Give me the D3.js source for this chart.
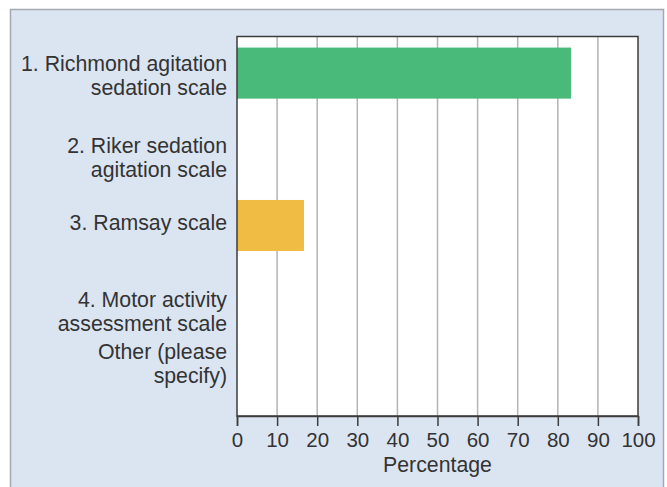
<!DOCTYPE html>
<html>
<head>
<meta charset="utf-8">
<script src="https://cdn.jsdelivr.net/npm/d3@7"></script>
<style>
  html, body { margin: 0; padding: 0; background: #ffffff; }
  svg { display: block; }
  text { font-family: "Liberation Sans", Arial, sans-serif; fill: #333333; }
</style>
</head>
<body>
<svg id="chart" width="667" height="487"></svg>
<script>
// Sedation scale used — share of respondents (%)
const categories = [
  ["1. Richmond agitation", "sedation scale"],
  ["2. Riker sedation", "agitation scale"],
  ["3. Ramsay scale"],
  ["4. Motor activity", "assessment scale"],
  ["Other (please", "specify)"]
];
const values = [83.3, 0, 16.7, 0, 0];
const barColors = ["#4aba7b", "#4aba7b", "#f0bc43", "#4aba7b", "#4aba7b"];
const xTicks = [0, 10, 20, 30, 40, 50, 60, 70, 80, 90, 100];
const xTitle = "Percentage";

// layout
const W = 667, H = 487;
const plot = { left: 237, right: 638, top: 36.5, bottom: 416 };
const labelNudge = [2, 8, -3, 10, -14];
const lineGap = 24;
const fontSize = 21.3;

const svg = d3.select("#chart");

// outer panel
svg.append("rect")
  .attr("x", 10.5).attr("y", 9.5)
  .attr("width", 653).attr("height", 500)
  .attr("fill", "#dbe5f2")
  .attr("stroke", "#a3a9b0")
  .attr("stroke-width", 1.5);

const x = d3.scaleLinear().domain([0, 100]).range([plot.left, plot.right]);
const y = d3.scaleBand()
  .domain(d3.range(categories.length))
  .range([35, plot.bottom])
  .paddingInner(0.33)
  .paddingOuter(0.165);

// plot background
svg.append("rect")
  .attr("x", plot.left).attr("y", plot.top)
  .attr("width", plot.right - plot.left).attr("height", plot.bottom - plot.top)
  .attr("fill", "#ffffff");

// vertical gridlines
svg.append("g")
  .selectAll("line")
  .data(xTicks.slice(1, -1))
  .join("line")
  .attr("x1", d => x(d)).attr("x2", d => x(d))
  .attr("y1", plot.top).attr("y2", plot.bottom)
  .attr("stroke", "#b4b4b4")
  .attr("stroke-width", 1.5);

// bars
svg.append("g")
  .selectAll("rect")
  .data(values.map((v, i) => ({ v, i })).filter(d => d.v > 0))
  .join("rect")
  .attr("x", x(0))
  .attr("y", d => y(d.i))
  .attr("width", d => x(d.v) - x(0))
  .attr("height", y.bandwidth())
  .attr("fill", d => barColors[d.i]);

// plot frame
svg.append("rect")
  .attr("x", plot.left).attr("y", plot.top)
  .attr("width", plot.right - plot.left).attr("height", plot.bottom - plot.top)
  .attr("fill", "none")
  .attr("stroke", "#3c3c3c")
  .attr("stroke-width", 1.5);

// x axis
const xAxis = svg.append("g")
  .attr("transform", `translate(0,${plot.bottom})`)
  .call(d3.axisBottom(x).tickValues(xTicks).tickSize(10).tickPadding(6).tickFormat(d3.format("d")));
xAxis.select(".domain").attr("stroke", "#3c3c3c").attr("stroke-width", 1.5);
xAxis.selectAll(".tick line").attr("stroke", "#3c3c3c").attr("stroke-width", 1.5);
xAxis.selectAll(".tick text")
  .attr("font-size", 20.5)
  .attr("font-family", "Liberation Sans, Arial, sans-serif")
  .attr("fill", "#333333");

svg.append("text")
  .attr("x", (plot.left + plot.right) / 2)
  .attr("y", 472)
  .attr("text-anchor", "middle")
  .attr("font-size", fontSize)
  .text(xTitle);

// category labels
const labels = svg.append("g");
categories.forEach((lines, i) => {
  const c = y(i) + y.bandwidth() / 2;
  const first = c - (lines.length - 1) * lineGap / 2 + fontSize * 0.35 + labelNudge[i];
  const t = labels.append("text")
    .attr("text-anchor", "end")
    .attr("font-size", fontSize);
  lines.forEach((ln, k) => {
    t.append("tspan")
      .attr("x", 227)
      .attr("y", first + k * lineGap)
      .text(ln);
  });
});
</script>
</body>
</html>
